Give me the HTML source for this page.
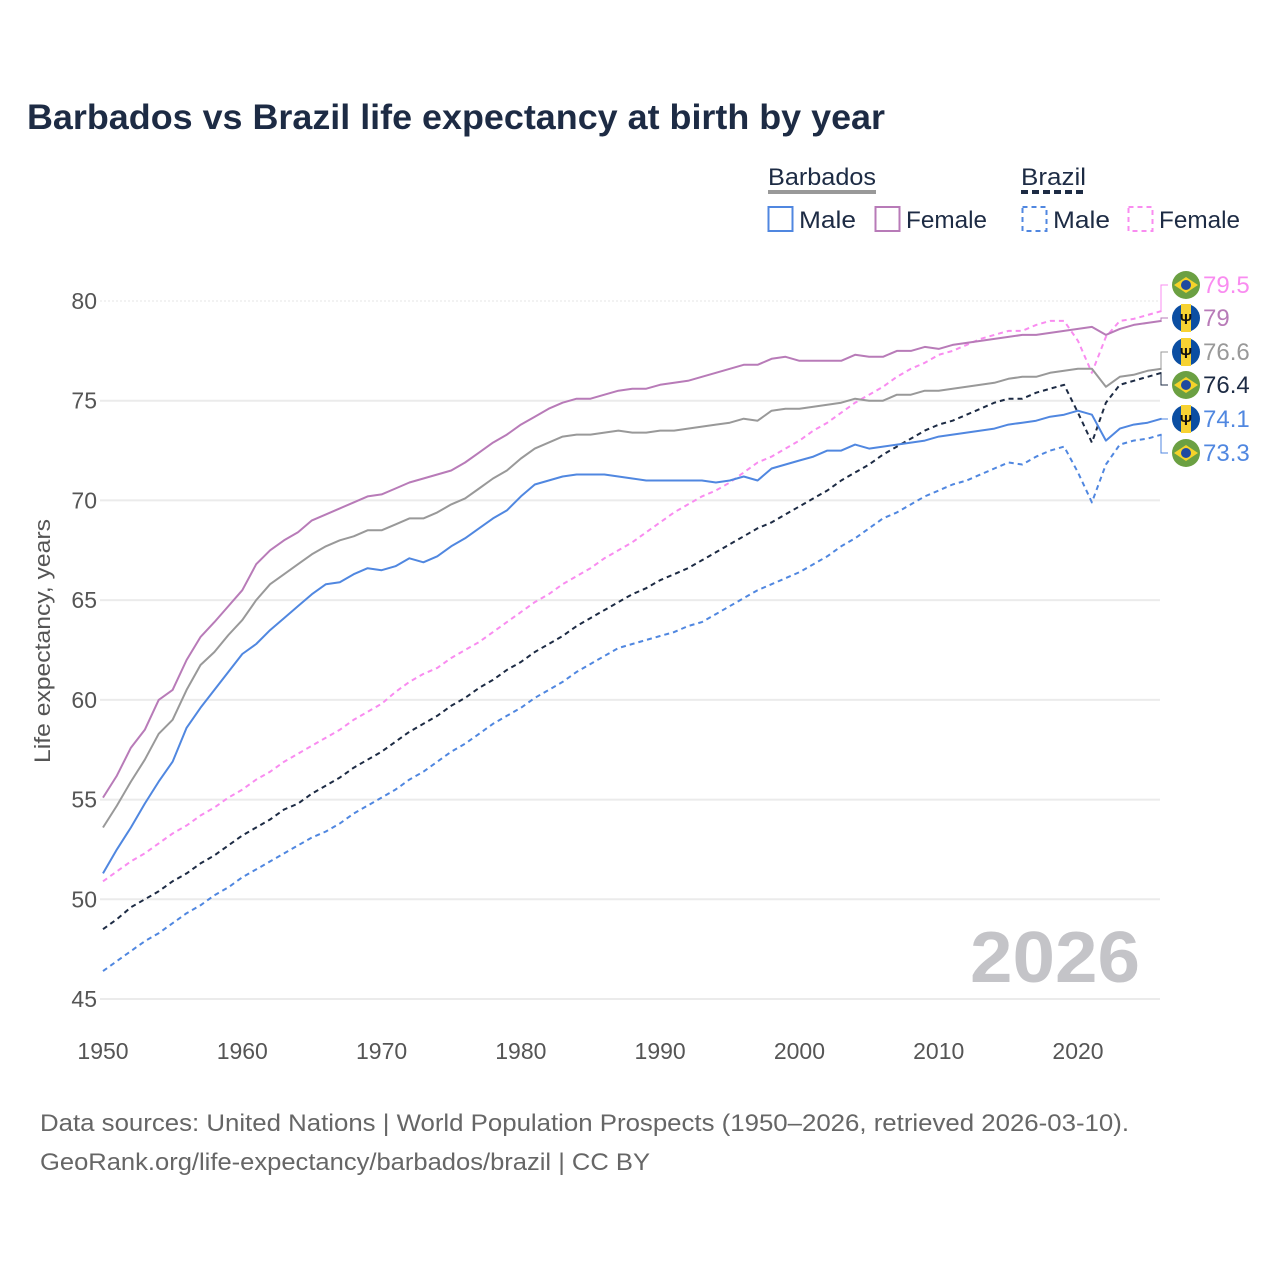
<!DOCTYPE html>
<html><head><meta charset="utf-8"><style>
body{margin:0;background:#fff;font-family:"Liberation Sans",sans-serif;}
#wrap{position:relative;width:1280px;height:1280px;overflow:hidden;}
</style></head><body>
<div id="wrap">
<svg id="chart" width="1280" height="1280" viewBox="0 0 1280 1280" xmlns="http://www.w3.org/2000/svg">
<text x="27" y="129" font-size="35" font-weight="bold" fill="#1d2b44" textLength="858" lengthAdjust="spacingAndGlyphs">Barbados vs Brazil life expectancy at birth by year</text>
<g font-size="24" fill="#1d2b44">
<text x="768" y="185" textLength="108" lengthAdjust="spacingAndGlyphs">Barbados</text>
<line x1="768" y1="192" x2="876" y2="192" stroke="#999" stroke-width="4"/>
<rect x="768.5" y="207" width="24" height="24" fill="none" stroke="#5087e0" stroke-width="2"/>
<text x="799" y="228" textLength="57" lengthAdjust="spacingAndGlyphs">Male</text>
<rect x="875.5" y="207" width="24" height="24" fill="none" stroke="#b87bb8" stroke-width="2"/>
<text x="906" y="228" textLength="81" lengthAdjust="spacingAndGlyphs">Female</text>
<text x="1021" y="185" textLength="65" lengthAdjust="spacingAndGlyphs">Brazil</text>
<line x1="1021" y1="192" x2="1086" y2="192" stroke="#1d2b44" stroke-width="4" stroke-dasharray="7,4"/>
<rect x="1022.5" y="207" width="24" height="24" fill="none" stroke="#5087e0" stroke-width="2" stroke-dasharray="5,4"/>
<text x="1053" y="228" textLength="57" lengthAdjust="spacingAndGlyphs">Male</text>
<rect x="1128.5" y="207" width="24" height="24" fill="none" stroke="#f98cf0" stroke-width="2" stroke-dasharray="5,4"/>
<text x="1159" y="228" textLength="81" lengthAdjust="spacingAndGlyphs">Female</text>
</g>
<g id="grid"></g>
<text x="1140" y="982" font-size="72" font-weight="bold" fill="#c4c4c8" text-anchor="end" textLength="170" lengthAdjust="spacingAndGlyphs">2026</text>
<g id="series"></g>
<g id="endlabels"></g>
<text transform="translate(50,641) rotate(-90)" font-size="22" fill="#555" text-anchor="middle" textLength="244" lengthAdjust="spacingAndGlyphs">Life expectancy, years</text>
<text x="40" y="1131" font-size="24" fill="#666" textLength="1089" lengthAdjust="spacingAndGlyphs">Data sources: United Nations | World Population Prospects (1950–2026, retrieved 2026-03-10).</text>
<text x="40" y="1170" font-size="24" fill="#666" textLength="610" lengthAdjust="spacingAndGlyphs">GeoRank.org/life-expectancy/barbados/brazil | CC BY</text>
</svg>
</div>
<script>
const startYear = 1950;
const xTicks = [1950,1960,1970,1980,1990,2000,2010,2020];
const yTicks = [45,50,55,60,65,70,75,80];
const barbadosFemale = [55.1,56.2,57.6,58.5,60.0,60.5,62.0,63.15,63.9,64.7,65.5,66.8,67.5,68.0,68.4,69.0,69.3,69.6,69.9,70.2,70.3,70.6,70.9,71.1,71.3,71.5,71.9,72.4,72.9,73.3,73.8,74.2,74.6,74.9,75.1,75.1,75.3,75.5,75.6,75.6,75.8,75.9,76.0,76.2,76.4,76.6,76.8,76.8,77.1,77.2,77.0,77.0,77.0,77.0,77.3,77.2,77.2,77.5,77.5,77.7,77.6,77.8,77.9,78.0,78.1,78.2,78.3,78.3,78.4,78.5,78.6,78.7,78.3,78.6,78.8,78.9,79.0];
const barbadosTotal = [53.6,54.7,55.9,57.0,58.3,59.0,60.5,61.75,62.4,63.25,64.0,65.0,65.8,66.3,66.8,67.3,67.7,68.0,68.2,68.5,68.5,68.8,69.1,69.1,69.4,69.8,70.1,70.6,71.1,71.5,72.1,72.6,72.9,73.2,73.3,73.3,73.4,73.5,73.4,73.4,73.5,73.5,73.6,73.7,73.8,73.9,74.1,74.0,74.5,74.6,74.6,74.7,74.8,74.9,75.1,75.0,75.0,75.3,75.3,75.5,75.5,75.6,75.7,75.8,75.9,76.1,76.2,76.2,76.4,76.5,76.6,76.6,75.7,76.2,76.3,76.5,76.6];
const barbadosMale = [51.3,52.5,53.6,54.8,55.9,56.9,58.6,59.6,60.5,61.4,62.3,62.8,63.5,64.1,64.7,65.3,65.8,65.9,66.3,66.6,66.5,66.7,67.1,66.9,67.2,67.7,68.1,68.6,69.1,69.5,70.2,70.8,71.0,71.2,71.3,71.3,71.3,71.2,71.1,71.0,71.0,71.0,71.0,71.0,70.9,71.0,71.2,71.0,71.6,71.8,72.0,72.2,72.5,72.5,72.8,72.6,72.7,72.8,72.9,73.0,73.2,73.3,73.4,73.5,73.6,73.8,73.9,74.0,74.2,74.3,74.5,74.3,73.0,73.6,73.8,73.9,74.1];
const brazilFemale = [50.9,51.4,51.9,52.3,52.8,53.3,53.7,54.2,54.6,55.1,55.5,56.0,56.4,56.9,57.3,57.7,58.1,58.5,59.0,59.4,59.8,60.4,60.9,61.3,61.6,62.1,62.5,62.9,63.4,63.9,64.4,64.9,65.3,65.8,66.2,66.6,67.1,67.5,67.9,68.4,68.9,69.4,69.8,70.2,70.5,70.9,71.4,71.9,72.2,72.6,73.0,73.5,73.9,74.4,74.9,75.3,75.7,76.2,76.6,76.9,77.3,77.5,77.8,78.1,78.3,78.5,78.5,78.8,79.0,79.0,78.0,76.4,78.2,79.0,79.1,79.3,79.5];
const brazilTotal = [48.5,49.0,49.6,50.0,50.4,50.9,51.3,51.8,52.2,52.7,53.2,53.6,54.0,54.5,54.8,55.3,55.7,56.1,56.6,57.0,57.4,57.9,58.4,58.8,59.2,59.7,60.1,60.6,61.0,61.5,61.9,62.4,62.8,63.2,63.7,64.1,64.5,64.9,65.3,65.6,66.0,66.3,66.6,67.0,67.4,67.8,68.2,68.6,68.9,69.3,69.7,70.1,70.5,71.0,71.4,71.8,72.3,72.7,73.1,73.5,73.8,74.0,74.3,74.6,74.9,75.1,75.1,75.4,75.6,75.8,74.4,72.9,74.9,75.8,76.0,76.2,76.4];
const brazilMale = [46.4,46.9,47.4,47.9,48.3,48.8,49.3,49.7,50.2,50.6,51.1,51.5,51.9,52.3,52.7,53.1,53.4,53.8,54.3,54.7,55.1,55.5,56.0,56.4,56.9,57.4,57.8,58.3,58.8,59.2,59.6,60.1,60.5,60.9,61.4,61.8,62.2,62.6,62.8,63.0,63.2,63.4,63.7,63.9,64.3,64.7,65.1,65.5,65.8,66.1,66.4,66.8,67.2,67.7,68.1,68.6,69.1,69.4,69.8,70.2,70.5,70.8,71.0,71.3,71.6,71.9,71.8,72.2,72.5,72.7,71.4,69.9,71.8,72.8,73.0,73.1,73.3];

const NS = "http://www.w3.org/2000/svg";
const X = y => 103 + (y - 1950) * (975 / 70);
const Y = v => 301 + (80 - v) * (698 / 35);
function mk(tag, attrs, parent){const e=document.createElementNS(NS,tag);for(const k in attrs)e.setAttribute(k,attrs[k]);parent.appendChild(e);return e;}

const grid = document.getElementById('grid');
yTicks.forEach(t=>{
  const l = mk('line',{x1:100,x2:1160,y1:Y(t),y2:Y(t),stroke:t===80?'#e4e4e4':'#ebebeb','stroke-width':t===80?1:2,'stroke-dasharray':t===80?'2,2':'none'},grid);
  
  
  const tx = mk('text',{x:97,y:Y(t)+8,'font-size':23,fill:'#555','text-anchor':'end'},grid);
  tx.textContent = t;
  
  
});
xTicks.forEach(t=>{
  const tx = mk('text',{x:X(t),y:1059,'font-size':23,fill:'#555','text-anchor':'middle'},grid);
  tx.textContent = t;
  
  
});

const seriesG = document.getElementById('series');
const defs = [
  [brazilFemale,'#f98cf0','5,4','line-brazil-female'],
  [barbadosFemale,'#b87bb8','none','line-barbados-female'],
  [barbadosTotal,'#999999','none','line-barbados-total'],
  [brazilTotal,'#1d2b44','5,4','line-brazil-total'],
  [barbadosMale,'#5087e0','none','line-barbados-male'],
  [brazilMale,'#5087e0','5,4','line-brazil-male']
];
defs.forEach(([arr,col,dash,name])=>{
  const d = arr.map((v,i)=>(i?'L':'M')+X(startYear+i).toFixed(1)+','+Y(v).toFixed(1)).join(' ');
  const p = mk('path',{d:d,fill:'none',stroke:col,'stroke-width':2,'stroke-dasharray':dash,'stroke-linejoin':'round'},seriesG);
  
  
});

const endG = document.getElementById('endlabels');
const labels = [
  [brazilFemale,'#f98cf0','br',285],
  [barbadosFemale,'#b87bb8','bb',318],
  [barbadosTotal,'#999999','bb',352],
  [brazilTotal,'#1d2b44','br',385],
  [barbadosMale,'#5087e0','bb',419],
  [brazilMale,'#5087e0','br',453]
];
labels.forEach(([arr,col,flag,ly])=>{
  const v = arr[arr.length-1];
  const x0 = X(startYear+arr.length-1), y0 = Y(v);
  const c = mk('path',{d:`M${x0},${y0} H1161 V${ly} H1168`,fill:'none',stroke:col,'stroke-width':1},endG);
  
  
  const g = mk('g',{},endG);
  
  
  const cx=1186, cy=ly;
  if(flag==='br'){
    mk('circle',{cx:cx,cy:cy,r:14,fill:'#6ba042'},g);
    mk('path',{d:`M${cx-12},${cy} L${cx},${cy-8} L${cx+12},${cy} L${cx},${cy+8}Z`,fill:'#f5d32a'},g);
    mk('circle',{cx:cx,cy:cy,r:5,fill:'#1f4aa0'},g);
  } else {
    mk('circle',{cx:cx,cy:cy,r:14,fill:'#0b4ea2'},g);
    mk('rect',{x:cx-5,y:cy-14,width:10,height:28,fill:'#f7d232'},g);
    const t = mk('text',{x:cx,y:cy+6,'font-size':15,'font-weight':'bold',fill:'#111','text-anchor':'middle'},g);
    t.textContent='Ψ';
  }
  const tx = mk('text',{x:1203,y:ly+8,'font-size':24,fill:col},endG);
  tx.textContent = v;
  
  
});
</script>
</body></html>
